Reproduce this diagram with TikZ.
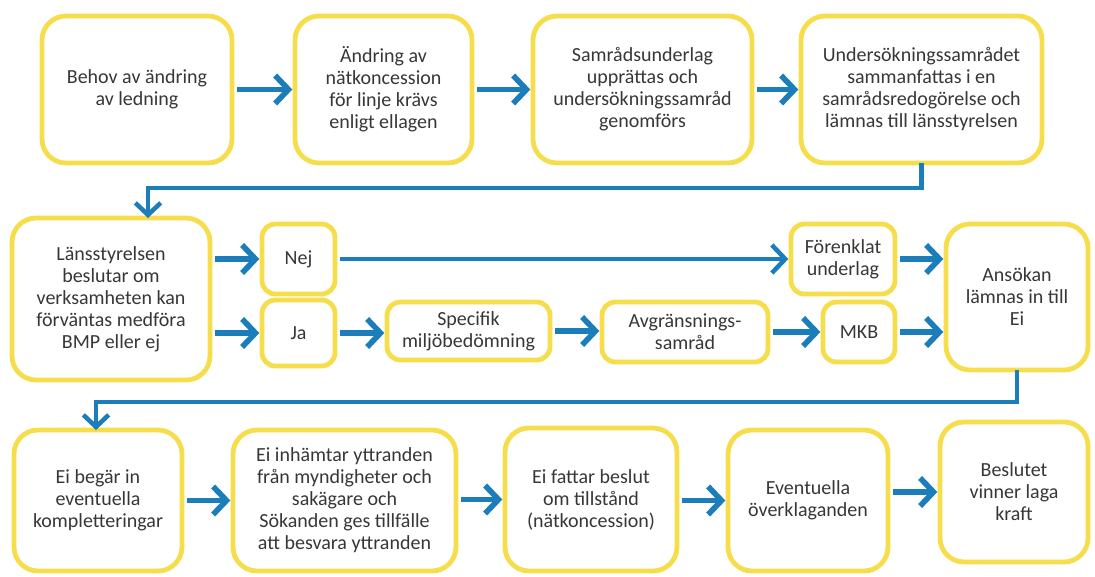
\documentclass[tikz,border=0pt]{standalone}
\usepackage{fontspec}
\setmainfont{Carlito}
\usetikzlibrary{arrows.meta}
\definecolor{byellow}{RGB}{246,221,76}
\definecolor{fblue}{RGB}{27,125,186}
\definecolor{tgray}{RGB}{55,55,55}
\tikzset{
  bigbox/.style={draw=byellow, line width=3.6pt, rounded corners=18pt, fill=white,
    align=center, inner sep=2pt, outer sep=0pt, text=tgray,
    font=\fontsize{15}{16.5}\selectfont},
  smallbox/.style={bigbox, rounded corners=10pt},
  arr/.style={draw=fblue, line width=4.2pt, -{Straight Barb[length=10pt,width=21pt]},
    shorten <=4pt, shorten >=2pt},
  conn/.style={draw=fblue, line width=3.4pt, -{Straight Barb[length=9pt,width=19pt]}},
}
\newcommand\bx[7]{%
  \node[#1, minimum width={(#5-#3)*0.75pt}, minimum height={(#6-#4)*0.75pt}]
    (#2) at ({(#3+#5)/2},{(#4+#6)/2}) {#7};}
\begin{document}
\begin{tikzpicture}[x=0.75pt,y=-0.75pt]
\useasboundingbox (0,0) rectangle (1095,576);
% Row 1
\bx{bigbox}{A}{42}{16}{232}{163}{Behov av ändring\\av ledning}
\bx{bigbox}{B}{295}{16}{472}{163}{Ändring av\\nätkoncession\\för linje krävs\\enligt ellagen}
\bx{bigbox}{C}{533}{16}{752}{163}{Samrådsunderlag\\upprättas och\\undersökningssamråd\\genomförs}
\bx{bigbox}{D}{801}{16}{1042}{163}{Undersökningssamrådet\\sammanfattas i en\\samrådsredogörelse och\\lämnas till länsstyrelsen}
% Row 2
\bx{bigbox}{L}{12}{218}{210}{380}{Länsstyrelsen\\beslutar om\\verksamheten kan\\förväntas medföra\\BMP eller ej}
\bx{smallbox}{Nej}{262}{224}{335}{294}{Nej}
\bx{smallbox}{Ja}{262}{300}{335}{366}{Ja}
\bx{smallbox}{S}{387}{302}{550}{360}{Specifik\\miljöbedömning}
\bx{smallbox}{Av}{602}{302}{768}{362}{Avgränsnings-\\samråd}
\bx{smallbox}{M}{823}{302}{895}{362}{MKB}
\bx{smallbox}{F}{791}{224}{895}{294}{Förenklat\\underlag}
\bx{bigbox}{An}{946}{224}{1088}{370}{Ansökan\\lämnas in till\\Ei}
% Row 3
\bx{bigbox}{E1}{14}{430}{182}{571}{Ei begär in\\eventuella\\kompletteringar}
\bx{bigbox}{E2}{233}{430}{456}{571}{Ei inhämtar yttranden\\från myndigheter och\\sakägare och\\Sökanden ges tillfälle\\att besvara yttranden}
\bx{bigbox}{E3}{505}{428}{677}{571}{Ei fattar beslut\\om tillstånd\\(nätkoncession)}
\bx{bigbox}{E4}{728}{430}{888}{571}{Eventuella\\överklaganden}
\bx{bigbox}{E5}{940}{422}{1088}{562}{Beslutet\\vinner laga\\kraft}
% arrows row 1
\draw[arr] (A.east) -- (B.west);
\draw[arr] (B.east) -- (C.west);
\draw[arr] (C.east) -- (D.west);
% connector 1
\coordinate (k1) at (148,188);
\draw[conn] (D.south) |- (k1) -- (k1 |- L.north);
% row 2 arrows
\draw[arr] (L.east |- Nej.west) -- (Nej.west);
\draw[arr] (L.east |- Ja.west) -- (Ja.west);
\draw[arr, line width=3.4pt] (Nej.east) -- (Nej.east -| F.west);
\draw[arr] (Ja.east) -- (Ja.east -| S.west);
\draw[arr] (S.east) -- (S.east -| Av.west);
\draw[arr] (Av.east) -- (Av.east -| M.west);
\draw[arr] (M.east) -- (M.east -| An.west);
\draw[arr] (F.east) -- (F.east -| An.west);
% connector 2
\coordinate (k2) at (96,402);
\draw[conn] (An.south) |- (k2) -- (k2 |- E1.north);
% row 3 arrows
\draw[arr] (E1.east |- E2.west) -- (E2.west);
\draw[arr] (E2.east |- E3.west) -- (E3.west);
\draw[arr] (E3.east |- E4.west) -- (E4.west);
\draw[arr] (E4.east |- E5.west) -- (E5.west);
\end{tikzpicture}
\end{document}
